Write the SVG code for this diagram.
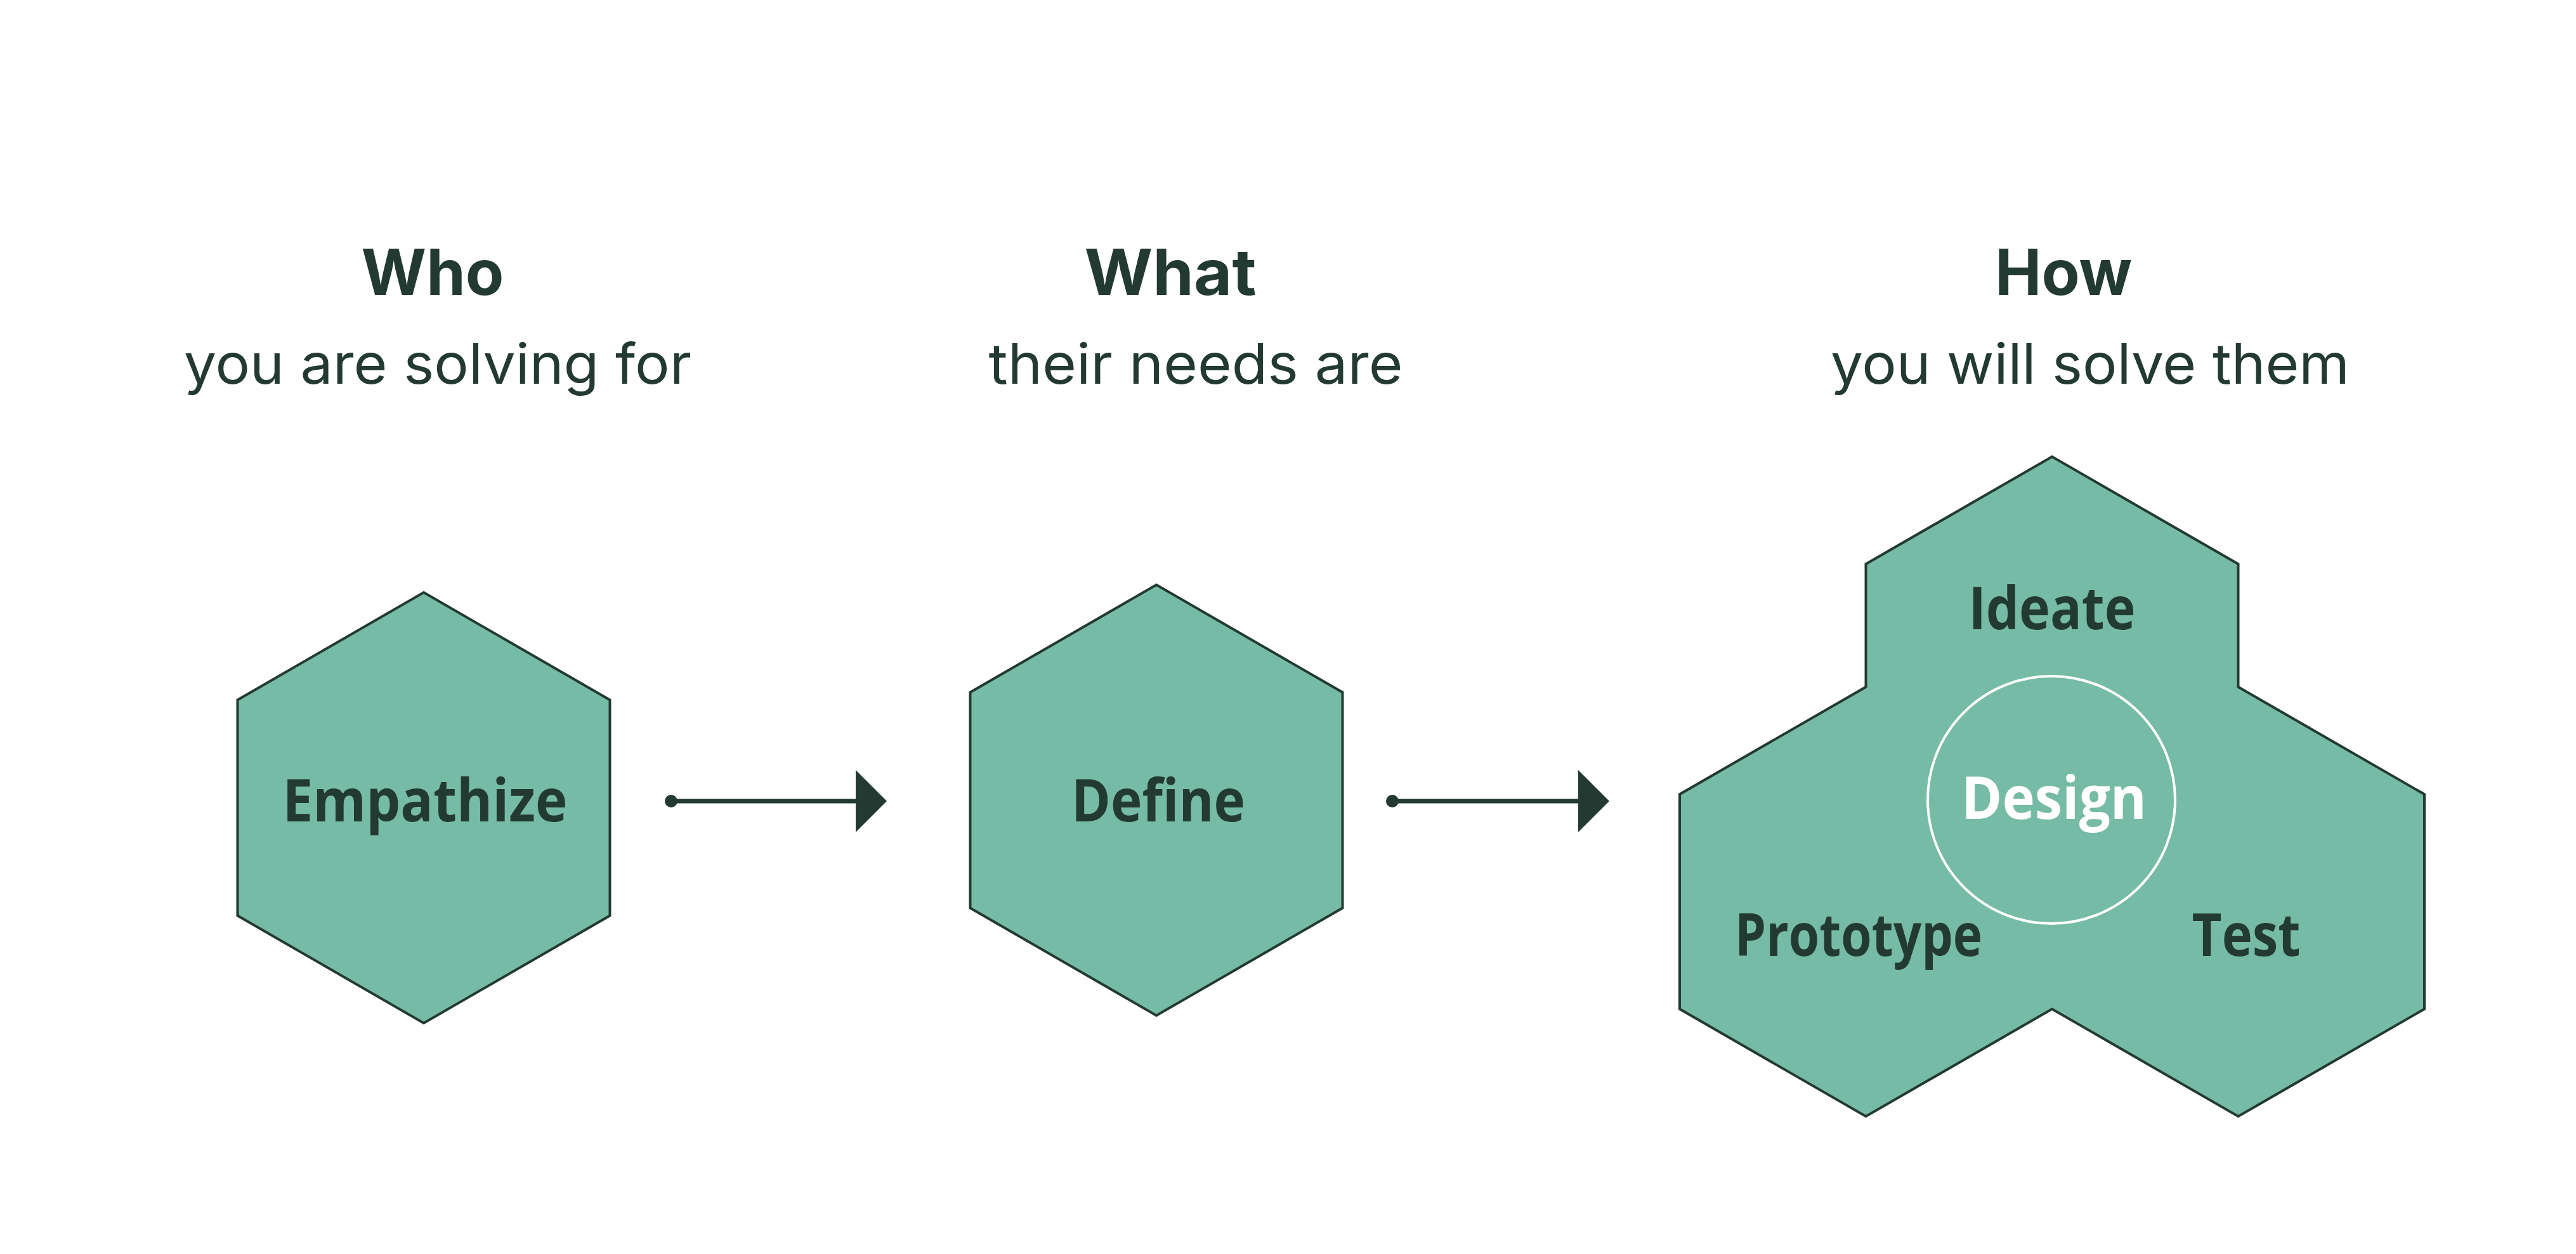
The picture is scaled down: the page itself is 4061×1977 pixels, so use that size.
<svg xmlns="http://www.w3.org/2000/svg" width="4061" height="1977" viewBox="0 0 4061 1977">
  <defs>
    <style>
      .hex { fill: #76bba6; stroke: #233a32; stroke-width: 4; stroke-linejoin: miter; }
      .head { font-family: Inter, "Liberation Sans", sans-serif; font-weight: 700; font-size: 100px; fill: #233a32; text-anchor: middle; }
      .sub { font-family: Inter, "Liberation Sans", sans-serif; font-weight: 400; font-size: 88px; fill: #233a32; text-anchor: middle; }
      .lbl { font-family: "Open Sans", "Liberation Sans", sans-serif; font-weight: 700; font-size: 94px; fill: #233a32; text-anchor: middle; }
      .conn { stroke: #233a32; stroke-width: 7; fill: none; }
    </style>
    <marker id="arrow" markerUnits="userSpaceOnUse" markerWidth="50" markerHeight="100" refX="0" refY="49" orient="auto" overflow="visible">
      <path d="M0,0 L49,49 L0,98 Z" fill="#233a32"/>
    </marker>
    <marker id="dot" markerUnits="userSpaceOnUse" markerWidth="22" markerHeight="22" refX="11" refY="11" orient="auto" overflow="visible">
      <circle cx="11" cy="11" r="10" fill="#233a32"/>
    </marker>
  </defs>

  <rect width="4061" height="1977" fill="#ffffff"/>

  <g id="heading-who">
    <text class="head" x="682" y="465" textLength="225" lengthAdjust="spacingAndGlyphs">Who</text>
    <text class="sub" x="690" y="605" textLength="800" lengthAdjust="spacingAndGlyphs">you are solving for</text>
  </g>
  <g id="heading-what">
    <text class="head" x="1845" y="465" textLength="271" lengthAdjust="spacingAndGlyphs">What</text>
    <text class="sub" x="1885" y="605" textLength="653" lengthAdjust="spacingAndGlyphs">their needs are</text>
  </g>
  <g id="heading-how">
    <text class="head" x="3253" y="465" textLength="216" lengthAdjust="spacingAndGlyphs">How</text>
    <text class="sub" x="3295" y="605" textLength="818" lengthAdjust="spacingAndGlyphs">you will solve them</text>
  </g>

  <g id="node-empathize">
    <polygon class="hex" points="668,934 961.5,1103.5 961.5,1443.5 668,1613 374.5,1443.5 374.5,1103.5"/>
    <text class="lbl" x="670" y="1295" textLength="449" lengthAdjust="spacingAndGlyphs">Empathize</text>
  </g>

  <g id="node-define">
    <polygon class="hex" points="1823,922 2116.5,1091.5 2116.5,1431.5 1823,1601 1529.5,1431.5 1529.5,1091.5"/>
    <text class="lbl" x="1826" y="1295" textLength="274" lengthAdjust="spacingAndGlyphs">Define</text>
  </g>

  <g id="node-design">
    <path class="hex" d="M3235,720 L3528.5,889.25 L3528.5,1083 L3822,1252.25 L3822,1590.75 L3528.5,1760 L3235,1590.75 L2941.5,1760 L2648,1590.75 L2648,1252.25 L2941.5,1083 L2941.5,889.25 Z"/>
    <circle cx="3234" cy="1261" r="195" fill="none" stroke="#ffffff" stroke-width="4"/>
    <g id="node-ideate">
      <text class="lbl" x="3235" y="992" textLength="263" lengthAdjust="spacingAndGlyphs">Ideate</text>
    </g>
    <g id="node-design-label">
      <text class="lbl" x="3238" y="1291" textLength="292" lengthAdjust="spacingAndGlyphs" fill="#ffffff" style="fill:#ffffff">Design</text>
    </g>
    <g id="node-prototype">
      <text class="lbl" x="2930" y="1507" textLength="390" lengthAdjust="spacingAndGlyphs">Prototype</text>
    </g>
    <g id="node-test">
      <text class="lbl" x="3541" y="1507" textLength="171" lengthAdjust="spacingAndGlyphs">Test</text>
    </g>
  </g>

  <g id="connectors">
    <line class="conn" x1="1058" y1="1263" x2="1349" y2="1263" marker-start="url(#dot)" marker-end="url(#arrow)"/>
    <line class="conn" x1="2195" y1="1263" x2="2488" y2="1263" marker-start="url(#dot)" marker-end="url(#arrow)"/>
  </g>
</svg>
